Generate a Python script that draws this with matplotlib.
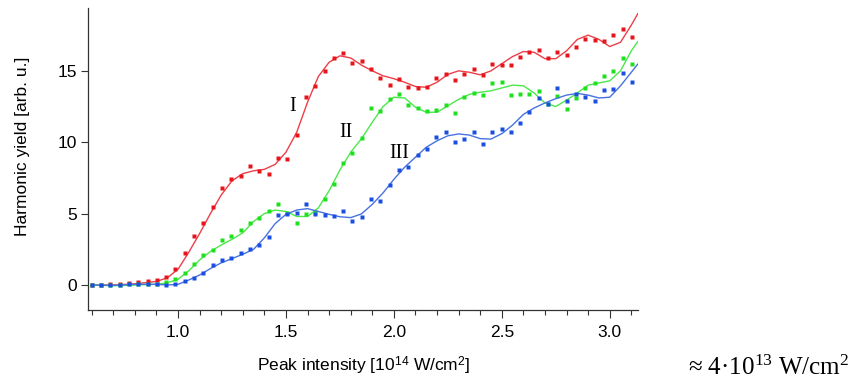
import matplotlib
matplotlib.use("Agg")
import matplotlib.pyplot as plt

plt.rcParams['font.family'] = ['Liberation Sans', 'DejaVu Sans']
plt.rcParams['mathtext.fontset'] = 'custom'
plt.rcParams['mathtext.rm'] = 'Liberation Serif'
plt.rcParams['mathtext.sf'] = 'Liberation Sans'
plt.rcParams['mathtext.it'] = 'Liberation Serif:italic'

# measured points (peak intensity in 1e14 W/cm^2)
x_pts = [0.600, 0.643, 0.686, 0.729, 0.773, 0.816, 0.859, 0.902, 0.945, 0.988,
         1.032, 1.075, 1.118, 1.161, 1.204, 1.247, 1.290, 1.334, 1.377, 1.420,
         1.463, 1.506, 1.549, 1.592, 1.636, 1.679, 1.722, 1.765, 1.808, 1.851,
         1.894, 1.938, 1.981, 2.024, 2.067, 2.110, 2.153, 2.197, 2.240, 2.283,
         2.326, 2.369, 2.412, 2.455, 2.499, 2.542, 2.585, 2.628, 2.671, 2.714,
         2.758, 2.801, 2.844, 2.887, 2.930, 2.973, 3.016, 3.060, 3.103]

red_pts = [0.02, 0.03, 0.05, 0.10, 0.17, 0.22, 0.27, 0.35, 0.58, 1.12,
           2.26, 3.45, 4.32, 5.43, 6.82, 7.45, 7.66, 8.36, 7.99, 7.80,
           8.90, 8.81, 10.49, 13.15, 13.94, 15.02, 15.89, 16.24, 15.56, 15.72,
           15.16, 14.50, 14.04, 14.41, 13.88, 13.80, 13.85, 14.50, 14.79, 14.34,
           14.79, 15.16, 14.74, 15.51, 15.39, 15.39, 15.95, 16.30, 16.47, 15.89,
           16.35, 16.12, 16.70, 17.26, 17.17, 17.12, 17.52, 17.91, 17.40]

green_pts = [0.00, 0.00, 0.02, 0.03, 0.05, 0.05, 0.05, 0.07, 0.21, 0.42,
             0.87, 1.50, 2.08, 2.45, 3.14, 3.42, 3.82, 4.37, 4.66, 5.21,
             5.67, 5.05, 4.37, 4.95, 5.10, 6.05, 7.08, 8.54, 9.22, 10.33,
             12.43, 12.18, 13.03, 13.35, 12.59, 12.40, 12.22, 12.26, 12.59, 12.05,
             13.15, 13.43, 13.34, 14.13, 14.20, 13.29, 13.38, 13.38, 13.57, 12.66,
             13.27, 12.33, 13.08, 13.83, 14.18, 14.65, 15.00, 15.89, 15.47]

blue_pts = [0.02, 0.00, -0.02, 0.02, 0.05, 0.08, 0.08, 0.06, 0.03, 0.10,
            0.31, 0.52, 0.85, 1.38, 1.74, 1.91, 2.24, 2.52, 2.82, 3.37,
            4.91, 4.95, 5.07, 5.69, 5.00, 4.88, 4.86, 5.16, 4.48, 4.79,
            6.00, 5.89, 7.03, 8.03, 8.27, 9.09, 9.53, 10.36, 10.75, 10.02,
            10.25, 10.74, 9.90, 10.74, 10.93, 10.70, 11.37, 12.10, 13.13, 12.70,
            13.83, 12.89, 13.36, 13.15, 12.92, 13.64, 13.75, 14.88, 14.20]

# smoothed fit curves
x_fit = [0.60, 0.70, 0.80, 0.90, 0.95, 1.00, 1.05, 1.10, 1.15, 1.20,
         1.25, 1.30, 1.35, 1.40, 1.45, 1.50, 1.55, 1.60, 1.65, 1.70,
         1.75, 1.80, 1.85, 1.90, 1.95, 2.00, 2.05, 2.10, 2.15, 2.20,
         2.25, 2.30, 2.35, 2.40, 2.45, 2.50, 2.55, 2.60, 2.65, 2.70,
         2.75, 2.80, 2.85, 2.90, 2.95, 3.00, 3.05, 3.10, 3.13]

red_fit = [0.00, 0.00, 0.08, 0.25, 0.50, 1.10, 2.30, 3.60, 5.00, 6.30,
           7.30, 7.80, 8.00, 8.10, 8.45, 9.30, 10.70, 12.80, 14.60, 15.60,
           16.05, 15.90, 15.40, 15.00, 14.65, 14.45, 14.20, 13.90, 13.85, 14.20,
           14.75, 15.00, 14.90, 14.72, 15.00, 15.50, 16.00, 16.35, 16.30, 15.85,
           15.85, 16.40, 17.20, 17.50, 17.20, 16.70, 17.00, 18.20, 19.00]

green_fit = [0.00, -0.05, 0.00, 0.05, 0.15, 0.40, 1.00, 1.75, 2.35, 2.80,
             3.20, 3.65, 4.45, 5.00, 5.25, 5.15, 4.80, 4.80, 5.40, 6.60,
             8.05, 9.30, 10.25, 11.40, 12.50, 13.15, 13.10, 12.45, 12.10, 12.10,
             12.55, 13.00, 13.35, 13.50, 13.60, 13.80, 14.00, 13.95, 13.45, 12.75,
             12.50, 12.95, 13.45, 14.00, 14.15, 14.30, 15.00, 16.40, 17.05]

blue_fit = [0.00, -0.03, 0.05, 0.05, 0.00, 0.05, 0.35, 0.70, 1.15, 1.55,
            1.85, 2.15, 2.50, 3.30, 4.30, 4.95, 5.25, 5.35, 5.15, 4.95,
            4.78, 4.72, 4.98, 5.65, 6.45, 7.40, 8.25, 8.95, 9.65, 10.10,
            10.45, 10.58, 10.50, 10.25, 10.22, 10.60, 11.20, 11.95, 12.40, 12.75,
            13.05, 13.30, 13.42, 13.30, 13.10, 13.15, 13.95, 14.90, 15.47]

series = [
    (red_pts, red_fit, '#e8141c', '#ec3f48'),
    (green_pts, green_fit, '#1fe01f', '#4be84b'),
    (blue_pts, blue_fit, '#1a4ee0', '#4872e0'),
]

fig = plt.figure(figsize=(8.54, 3.79), dpi=100)
ax = fig.add_axes([88/854, 1 - 310/379, 550/854, 302/379])

for pts, fit, c_pt, c_ln in series:
    ax.plot(x_fit, fit, '-', color=c_ln, lw=1.0)
    ax.plot(x_pts, pts, 's', color=c_pt, ms=2.8, mec='none')

ax.set_xlim(0.583, 3.131)
ax.set_ylim(-1.75, 19.4)
ax.spines['top'].set_visible(False)
ax.spines['right'].set_visible(False)
for s in ('left', 'bottom'):
    ax.spines[s].set_color('#333333')
    ax.spines[s].set_linewidth(0.9)

ax.set_xticks([1.0, 1.5, 2.0, 2.5, 3.0])
ax.set_xticks([0.6 + 0.1 * k for k in range(26)], minor=True)
ax.set_yticks([0, 5, 10, 15])
ax.tick_params(axis='x', which='major', length=6, width=0.8, pad=4.5,
               labelsize=12.5, color='#333333')
ax.tick_params(axis='x', which='minor', length=3.5, width=0.8, color='#333333')
ax.tick_params(axis='y', which='major', length=5, width=0.8, pad=3,
               labelsize=12.5, color='#333333')

fig.text(364/854, 1 - 366/379,
         r'Peak intensity [10$^{\mathsf{14}}$ W/cm$^{\mathsf{2}}$]',
         ha='center', va='center', fontsize=12.5)
fig.text(23/854, 1 - 146/379, 'Harmonic yield [arb. u.]', rotation=90,
         ha='center', va='center', fontsize=12.5)

serif = ['Liberation Serif', 'DejaVu Serif']
ax.text(1.529, 12.47, 'I', ha='center', va='center', fontsize=14.5, family=serif)
ax.text(1.78, 10.65, 'II', ha='center', va='center', fontsize=14.5, family=serif)
ax.text(2.027, 9.18, 'III', ha='center', va='center', fontsize=14.5, family=serif)

fig.text(688/854, 1 - 375/379, '\u2248 4\u00b710$^{13}$ W/cm$^{2}$',
         ha='left', va='baseline', fontsize=18, family=serif)

fig.savefig('out.png', dpi=100)
